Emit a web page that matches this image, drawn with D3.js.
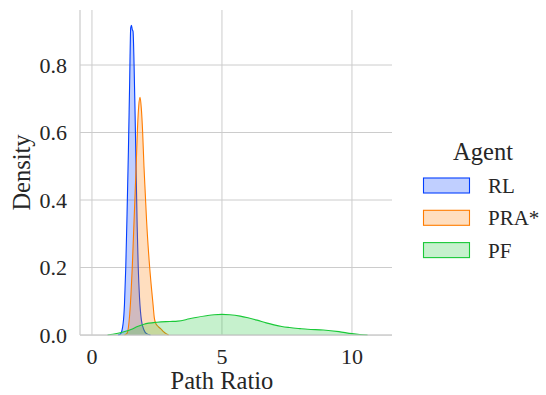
<!DOCTYPE html>
<html>
<head>
<meta charset="utf-8">
<script src="https://cdn.jsdelivr.net/npm/d3@7"></script>
<style>
  body { margin: 0; background: #fff; }
  svg text { font-family: "Liberation Serif", "Times New Roman", serif; fill: #262626; }
</style>
</head>
<body>
<svg id="chart" width="546" height="395" font-family="Liberation Serif, serif"></svg>
<script>
var agents = ["RL", "PRA*", "PF"];
var colors = ["#023eff", "#ff7c00", "#1ac938"];

// density curves: [path ratio, density]
var rlCurve = [[1.0,0],[1.1,0.003],[1.2,0.035],[1.25,0.09],[1.3,0.2],[1.35,0.36],[1.4,0.54],[1.45,0.75],
  [1.49,0.91],[1.52,0.918],[1.55,0.905],[1.58,0.9],[1.62,0.8],[1.66,0.65],[1.7,0.48],[1.74,0.32],
  [1.78,0.2],[1.83,0.11],[1.9,0.045],[2.0,0.015],[2.1,0.004],[2.25,0]];
var praCurve = [[1.25,0],[1.35,0.005],[1.45,0.06],[1.5,0.12],[1.55,0.2],[1.6,0.3],[1.65,0.4],[1.7,0.5],
  [1.75,0.61],[1.8,0.68],[1.85,0.704],[1.9,0.67],[1.95,0.6],[2.0,0.5],[2.05,0.42],[2.1,0.34],
  [2.2,0.22],[2.3,0.13],[2.35,0.09],[2.4,0.05],[2.45,0.035],[2.55,0.025],[2.65,0.018],[2.75,0.01],
  [2.85,0.004],[2.95,0]];
var pfCurve = [[0.6,0],[0.8,0.002],[1.0,0.005],[1.2,0.009],[1.5,0.016],[1.75,0.025],[2.0,0.032],
  [2.5,0.038],[3.0,0.04],[3.3,0.041],[3.75,0.048],[4.0,0.052],[4.4,0.057],[4.7,0.06],[5.0,0.061],
  [5.3,0.06],[5.7,0.056],[6.0,0.051],[6.35,0.044],[6.7,0.036],[7.0,0.03],[7.3,0.025],[7.6,0.022],
  [8.0,0.019],[8.3,0.017],[8.9,0.015],[9.5,0.01],[10.0,0.004],[10.3,0.0015],[10.6,0]];
var curves = [rlCurve, praCurve, pfCurve];

var xTicks = [0, 5, 10];
var yTicks = [0.0, 0.2, 0.4, 0.6, 0.8];

var svg = d3.select("svg#chart");
var mLeft = 80, mRight = 392, mTop = 10, mBottom = 335;

var x = d3.scaleLinear().domain([-0.46, 11.54]).range([mLeft, mRight]);
var y = d3.scaleLinear().domain([0, 0.963]).range([mBottom, mTop]);

// grid
svg.append("g").selectAll("line")
  .data(xTicks).enter().append("line")
    .attr("x1", d => x(d)).attr("x2", d => x(d))
    .attr("y1", mTop).attr("y2", mBottom)
    .attr("stroke", "#cccccc").attr("stroke-width", 1);
svg.append("g").selectAll("line")
  .data(yTicks).enter().append("line")
    .attr("x1", mLeft).attr("x2", mRight)
    .attr("y1", d => y(d)).attr("y2", d => y(d))
    .attr("stroke", "#cccccc").attr("stroke-width", 1);

var area = d3.area()
  .x(d => x(d[0])).y0(y(0)).y1(d => y(d[1]))
  .curve(d3.curveMonotoneX);
var line = d3.line()
  .x(d => x(d[0])).y(d => y(d[1]))
  .curve(d3.curveMonotoneX);

curves.forEach(function(c, i) {
  svg.append("path").datum(c)
    .attr("d", area)
    .attr("fill", colors[i]).attr("fill-opacity", 0.25);
  svg.append("path").datum(c)
    .attr("d", line)
    .attr("fill", "none").attr("stroke", colors[i]).attr("stroke-width", 1.1);
});

// spines
svg.append("line").attr("x1", mLeft).attr("x2", mLeft).attr("y1", mTop).attr("y2", mBottom)
  .attr("stroke", "#cccccc").attr("stroke-width", 1.25);
svg.append("line").attr("x1", mLeft).attr("x2", mRight).attr("y1", mBottom).attr("y2", mBottom)
  .attr("stroke", "#cccccc").attr("stroke-width", 1.25);

// tick labels
svg.append("g").selectAll("text")
  .data(yTicks).enter().append("text")
    .attr("x", 67).attr("y", d => y(d)).attr("dy", "0.35em")
    .attr("text-anchor", "end").attr("font-size", 22)
    .text(d3.format(".1f"));
svg.append("g").selectAll("text")
  .data(xTicks).enter().append("text")
    .attr("x", d => x(d)).attr("y", 364)
    .attr("text-anchor", "middle").attr("font-size", 22)
    .text(d => d);

svg.append("text").attr("x", x(5)).attr("y", 389)
  .attr("text-anchor", "middle").attr("font-size", 24.5).text("Path Ratio");
svg.append("text")
  .attr("transform", "translate(30," + ((mTop + mBottom) / 2) + ") rotate(-90)")
  .attr("text-anchor", "middle").attr("font-size", 24.5).text("Density");

// legend
var legend = svg.append("g");
legend.append("text").attr("x", 483).attr("y", 160)
  .attr("text-anchor", "middle").attr("font-size", 24.5).text("Agent");
var item = legend.selectAll("g.item")
  .data(agents).enter().append("g")
    .attr("transform", (d, i) => "translate(0," + (i * 32.3) + ")");
item.append("rect")
  .attr("x", 423.5).attr("y", 178).attr("width", 46).attr("height", 15)
  .attr("fill", (d, i) => colors[i]).attr("fill-opacity", 0.25)
  .attr("stroke", (d, i) => colors[i]).attr("stroke-width", 1.1);
item.append("text")
  .attr("x", 488).attr("y", 193).attr("font-size", 21)
  .text(d => d);
</script>
</body>
</html>
